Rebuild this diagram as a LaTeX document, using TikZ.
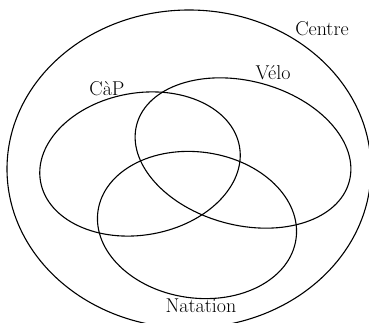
\documentclass[tikz,border=0pt]{standalone}
\usepackage{tikz}
\usetikzlibrary{positioning}

\tikzset{
  set/.style={line width=1.1pt},
  setlabel/.style={font=\fontsize{20}{22}\selectfont, inner sep=0pt}
}

\begin{document}
\begin{tikzpicture}[x=1pt, y=1pt]
\useasboundingbox (0,0) rectangle (369,322);
\begin{scope}
\clip (0,0) rectangle (369,322);
\draw[set] (189,153) ellipse (182 and 159);
\end{scope}
\draw[set, rotate around={10:(140,158)}] (140,158) ellipse (101 and 71);
\draw[set, rotate around={-15:(243,169)}] (243,169) ellipse (110 and 72);
\draw[set, rotate around={-8:(197,97)}] (197,97) ellipse (100 and 73);
\node[setlabel] (centre) at (322,293) {Centre};
\node[setlabel] (velo) at (273,249) {Vélo};
\node[setlabel] (cap) at (107,233) {CàP};
\node[setlabel] (natation) at (201,16) {Natation};
\end{tikzpicture}
\end{document}
